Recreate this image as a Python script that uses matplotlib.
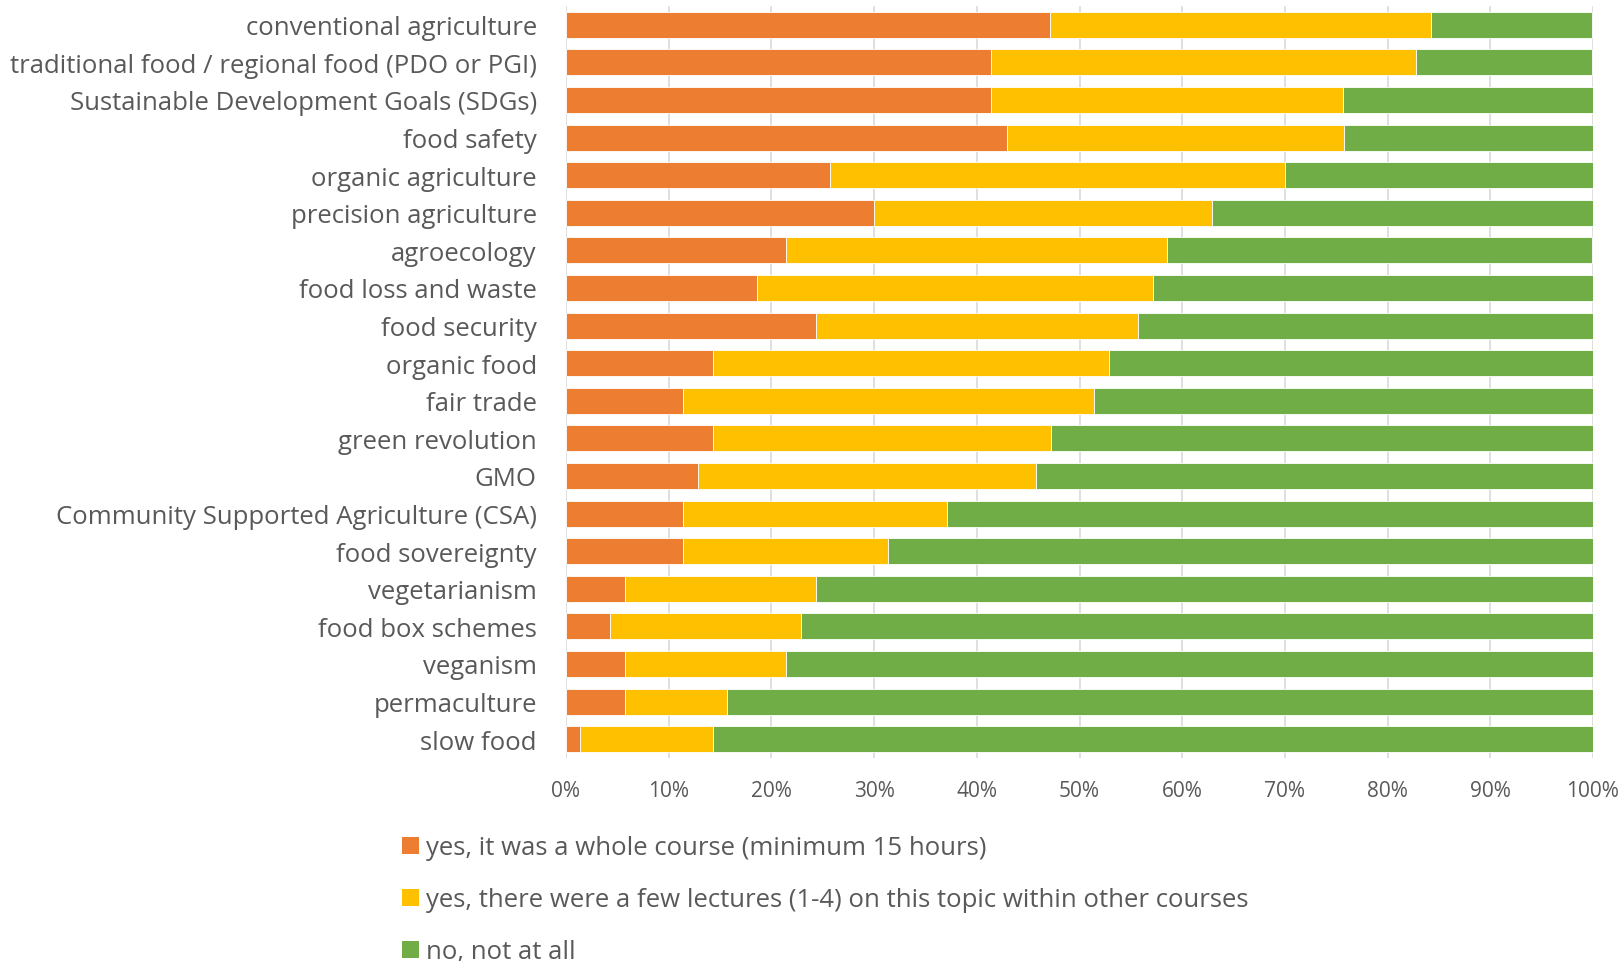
import numpy as np
import matplotlib.pyplot as plt
from matplotlib.patches import Patch

# topics, top to bottom as in the chart
topics = [
    "conventional agriculture",
    "traditional food / regional food (PDO or PGI)",
    "Sustainable Development Goals (SDGs)",
    "food safety",
    "organic agriculture",
    "precision agriculture",
    "agroecology",
    "food loss and waste",
    "food security",
    "organic food",
    "fair trade",
    "green revolution",
    "GMO",
    "Community Supported Agriculture (CSA)",
    "food sovereignty",
    "vegetarianism",
    "food box schemes",
    "veganism",
    "permaculture",
    "slow food",
]

# share of respondents (%)
whole_course = [47.1, 41.4, 41.4, 42.9, 25.7, 30.0, 21.4, 18.6, 24.3, 14.3,
                11.4, 14.3, 12.9, 11.4, 11.4, 5.7, 4.3, 5.7, 5.7, 1.4]
few_lectures = [37.1, 41.4, 34.3, 32.9, 44.3, 32.9, 37.1, 38.6, 31.4, 38.6,
                40.0, 32.9, 32.9, 25.7, 20.0, 18.6, 18.6, 15.7, 10.0, 12.9]
not_at_all = [15.7, 17.1, 24.3, 24.3, 30.0, 37.1, 41.4, 42.9, 44.3, 47.1,
              48.6, 52.9, 54.3, 62.9, 68.6, 75.7, 77.1, 78.6, 84.3, 85.7]

series_names = [
    "yes, it was a whole course (minimum 15 hours)",
    "yes, there were a few lectures (1-4) on this topic within other courses",
    "no, not at all",
]
colors = ["#ED7D31", "#FFC000", "#70AD47"]
text_color = "#595959"

plt.rcParams['font.family'] = ['Open Sans', 'DejaVu Sans']

fig = plt.figure(figsize=(16.22, 9.62), dpi=100)
ax = fig.add_axes([566 / 1622, 1 - 759 / 962, (1593 - 566) / 1622, (759 - 7) / 962])

y = np.arange(len(topics))
left = np.zeros(len(topics))
for vals, c in zip([whole_course, few_lectures, not_at_all], colors):
    vals = np.array(vals)
    ax.barh(y, vals, left=left, height=0.69, color=c, edgecolor="white", linewidth=0.6, zorder=3)
    left += vals

ax.set_ylim(len(topics) - 0.5, -0.5)
ax.set_xlim(0, 100)
ax.set_yticks(y)
ax.set_yticklabels(topics, fontsize=18.5, color=text_color)
ax.set_xticks(np.arange(0, 101, 10))
ax.set_xticklabels([f"{v}%" for v in range(0, 101, 10)], fontsize=15, color=text_color)
ax.tick_params(axis="y", length=0, pad=21)
ax.tick_params(axis="x", length=0, pad=16)
ax.grid(axis="x", color="#D9D9D9", linewidth=1.2, zorder=0)
for s in ax.spines.values():
    s.set_visible(False)

handles = [Patch(facecolor=c, edgecolor="none") for c in colors]
fig.legend(handles, series_names, loc="upper left", bbox_to_anchor=(392 / 1622, 1 - 826 / 962),
           frameon=False, fontsize=18.5, labelcolor=text_color, handlelength=0.66, handleheight=0.66,
           handletextpad=0.27, labelspacing=1.05, borderaxespad=0)

fig.savefig("out.png", dpi=100)
